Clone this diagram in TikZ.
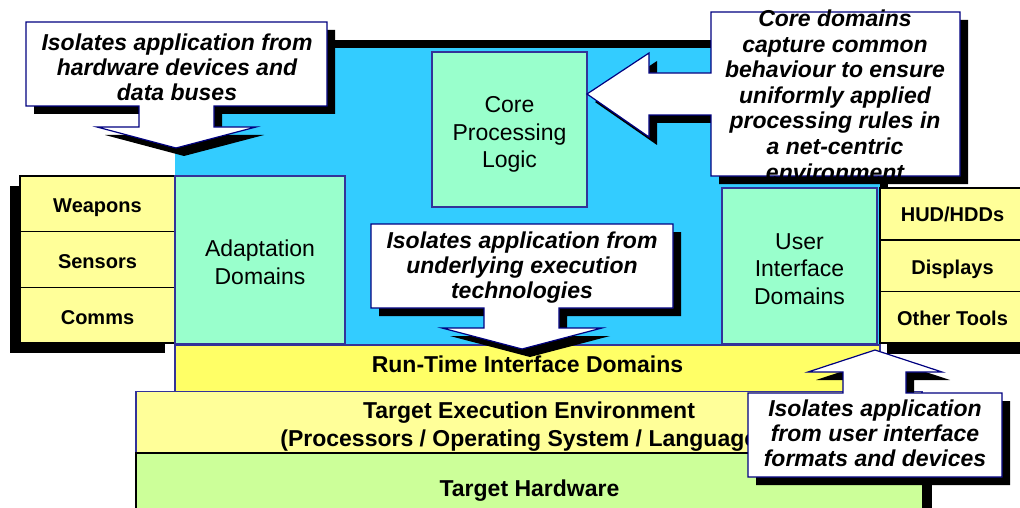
\documentclass[tikz,border=0pt]{standalone}
\usepackage{fontspec}
\setmainfont{Liberation Sans}
\usetikzlibrary{positioning}
\definecolor{skyblue}{RGB}{51,204,255}
\definecolor{mint}{RGB}{153,255,204}
\definecolor{paleyel}{RGB}{255,255,153}
\definecolor{runyel}{RGB}{255,255,102}
\definecolor{hwgreen}{RGB}{204,255,153}
\definecolor{domline}{RGB}{51,51,153}
\definecolor{notenavy}{RGB}{0,0,128}
\tikzstyle{dom}=[rectangle,draw=domline,line width=1.8pt,fill=mint,align=center,font=\fontsize{23}{27.5}\selectfont]
\tikzstyle{side}=[rectangle,draw=black,line width=1.6pt,fill=paleyel,align=center,outer sep=0pt,font=\fontsize{20}{24}\selectfont\bfseries]
\tikzstyle{layer}=[rectangle,draw=domline,line width=1.4pt,align=center,font=\fontsize{23}{28}\selectfont\bfseries]
\tikzstyle{callout}=[draw=notenavy,fill=white,line width=1.2pt,line join=miter]
\tikzstyle{callshadow}=[fill=black,shift={(8,8)}]
\tikzstyle{note}=[align=center,font=\fontsize{23}{25}\selectfont\bfseries\itshape]
% strut that pushes a node's text down
\newcommand{\lowr}[1]{\rule{0pt}{#1pt}}

\begin{document}
\begin{tikzpicture}[x=1pt,y=-1pt]
\useasboundingbox (0,0) rectangle (1020,508);
% left device stack
\fill[black] (10,186) rectangle (165,353);
\node (weapons) [side, minimum width=155, minimum height=55.7] at (97.5,203.8) {\lowr{22.4}Weapons};
\node (sensors) [side, minimum width=155, minimum height=55.7, below=0pt of weapons] {\lowr{18.4}Sensors};
\node (comms) [side, minimum width=155, minimum height=55.7, below=0pt of sensors] {\lowr{18.4}Comms};
% application block
\fill[black] (183,40) rectangle (888,337);
\fill[skyblue] (175,48) rectangle (880,345);
% right tool stack
\fill[black] (887,198) rectangle (1030,354);
\node (hud) [side, minimum width=145, minimum height=51.7] at (952.5,214) {HUD/HDDs};
\node (displays) [side, minimum width=145, minimum height=51.7, below=0pt of hud] {\lowr{22.4}Displays};
\node (tools) [side, minimum width=145, minimum height=51.7, below=0pt of displays] {\lowr{16.4}Other Tools};
% domains
\node (core) [dom, minimum width=155, minimum height=155] at (509.5,129.5) {\lowr{26}Core\\Processing\\Logic};
\node (adapt) [dom, minimum width=170, minimum height=168] at (260,260) {\lowr{20.8}Adaptation\\Domains};
\node (ui) [dom, minimum width=155, minimum height=156] at (799.5,266) {\lowr{21.8}User\\Interface\\Domains};
% platform layers
\node (rti) [layer, fill=runyel, minimum width=705, minimum height=48] at (527.5,369) {\rule[-10pt]{0pt}{10pt}Run-Time Interface Domains};
\node (tee) [layer, fill=paleyel, minimum width=786, minimum height=60] at (529,423) {\lowr{23.5}Target Execution Environment\\(Processors / Operating System / Languages)};
\fill[black] (144,461) rectangle (932,530);
\node (hw) [layer, draw=black, line width=2pt, fill=hwgreen, minimum width=787, minimum height=72] at (529.5,489) {\lowr{20.5}Target Hardware};
% callouts
\def\outlinehw{(26,22) -- (327,22) -- (327,106) -- (214,106) -- (214,127) -- (256,127) -- (176,148) -- (97,127) -- (139,127) -- (139,106) -- (26,106) -- cycle}
\fill[callshadow] \outlinehw;
\draw[callout] \outlinehw;
\node (hwnote) [note] at (177,67) {Isolates application from\\hardware devices and\\data buses};
\def\outlinert{(371,224) -- (673,224) -- (673,308) -- (559,308) -- (559,328) -- (602,328) -- (522,349) -- (442,328) -- (484,328) -- (484,308) -- (371,308) -- cycle}
\fill[callshadow] \outlinert;
\draw[callout] \outlinert;
\node (rtnote) [note] at (522,268) {Isolates application from\\underlying execution\\technologies};
\def\outlinecore{(711,12) -- (960,12) -- (960,176) -- (711,176) -- (711,115) -- (649,115) -- (649,137) -- (587,94) -- (649,53) -- (649,73) -- (711,73) -- cycle}
\fill[callshadow] \outlinecore;
\draw[callout] \outlinecore;
\node (corenote) [note, font=\fontsize{23}{25.6}\selectfont\bfseries\itshape] at (835,95) {Core domains\\capture common\\behaviour to ensure\\uniformly applied\\processing rules in\\a net-centric\\environment};
\def\outlineui{(748,393) -- (843,393) -- (843,372) -- (808,372) -- (875,350) -- (942,372) -- (906,372) -- (906,393) -- (1002,393) -- (1002,477) -- (748,477) -- cycle}
\fill[callshadow] \outlineui;
\draw[callout] \outlineui;
\node (uinote) [note] at (875,433) {Isolates application\\from user interface\\formats and devices};
\end{tikzpicture}
\end{document}
